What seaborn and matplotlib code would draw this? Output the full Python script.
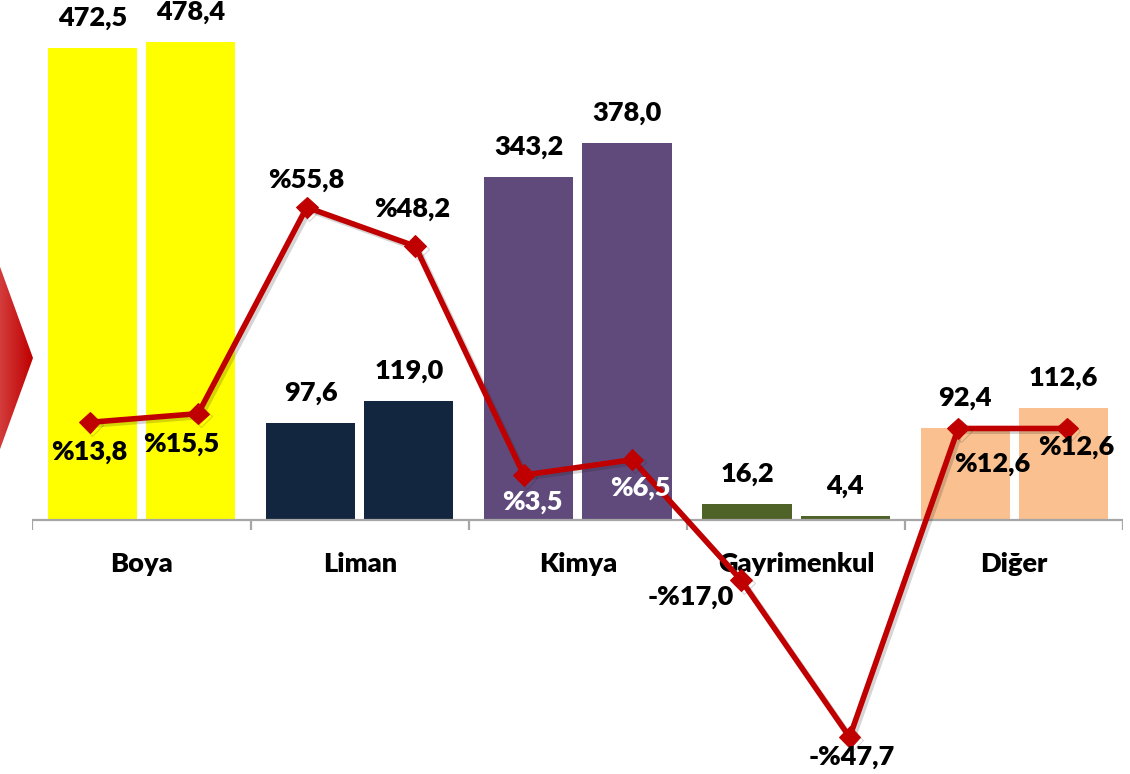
import numpy as np
import pandas as pd
import matplotlib
matplotlib.use('Agg')
import matplotlib.pyplot as plt
import matplotlib.patheffects as pe
from matplotlib.patches import Polygon
from matplotlib.colors import LinearSegmentedColormap
import seaborn as sns

# data
segments = ['Boya', 'Liman', 'Kimya', 'Gayrimenkul', 'Diğer']
periods = ['Önceki dönem', 'Son dönem']
values_prev = [472.5, 97.6, 343.2, 16.2, 92.4]
values_last = [478.4, 119.0, 378.0, 4.4, 112.6]
change_pct = [13.8, 15.5, 55.8, 48.2, 3.5, 6.5, -17.0, -47.7, 12.6, 12.6]

segment_colors = ['#FFFF00', '#13263F', '#604A7B', '#4F6228', '#FAC090']
line_red = '#C00000'
# where each % label sits relative to its point (pixels), like the original
pct_offsets = [(0, -30), (-17, -30), (0, 27), (-3, 37), (9, -27),
               (8, -28), (-50, -17), (2, -20), (34, -36), (9, -19)]
pct_colors = ['black'] * 4 + ['white'] * 2 + ['black'] * 4
FW = 'heavy'

df = pd.DataFrame({
    'segment': segments * 2,
    'period': [periods[0]] * 5 + [periods[1]] * 5,
    'value': values_prev + values_last,
})

def tr(v):
    return f'{abs(v):.1f}'.replace('.', ',')

sns.set_theme(style='white')
plt.rcParams['font.family'] = ['Lato', 'DejaVu Sans']
plt.rcParams['text.color'] = 'black'

fig = plt.figure(figsize=(11.3, 7.74), dpi=100)
ax = fig.add_axes([32.4 / 1130, 0, 1091 / 1130, 1])
ax.patch.set_visible(False)

sns.barplot(data=df, x='segment', y='value', hue='period', order=segments,
            width=0.9, gap=0.093, legend=False, ax=ax, saturation=1)
for cont in ax.containers:
    for bar, col in zip(cont, segment_colors):
        bar.set_facecolor(col)
        bar.set_edgecolor('none')
        ax.annotate(tr(bar.get_height()),
                    (bar.get_x() + bar.get_width() / 2, bar.get_height()),
                    xytext=(0, 30), textcoords='offset pixels', color='black',
                    ha='center', va='center', fontsize=19.5, fontweight=FW)

ax.set_xlim(-0.5, 4.5)
ax.set_ylim(-254.4, 520.8)
ax.axhline(0, color='#A6A6A6', lw=1.6, zorder=1)
ax.vlines(np.arange(len(segments) + 1) - 0.5, -10, 0, color='#A6A6A6', lw=1.6)
for i, name in enumerate(segments):
    ax.text(i, -52, name, ha='center', va='baseline', fontsize=19.5,
            fontweight=FW, color='black')
ax.set_axis_off()

# growth line on a second axis
ax2 = ax.twinx()
ax2.set_ylim(-54.9, 96.3)
xs = np.arange(len(change_pct)) * 0.4976 - 0.238
ldf = pd.DataFrame({'x': xs, 'pct': change_pct})
sns.lineplot(data=ldf, x='x', y='pct', ax=ax2, color=line_red, lw=4,
             marker='D', markersize=11, markeredgecolor=line_red, sort=False,
             path_effects=[pe.SimpleLineShadow(offset=(2, -2), alpha=0.18), pe.Normal()])
for x, v, off, c in zip(xs, change_pct, pct_offsets, pct_colors):
    lab = ('-%' if v < 0 else '%') + tr(v)
    ax2.annotate(lab, (x, v), xytext=off, textcoords='offset pixels',
                 ha='center', va='center', fontsize=19.5, fontweight=FW, color=c)
ax2.set_xlim(-0.5, 4.5)
ax2.set_axis_off()

# red arrow shape cut off at the left edge
ov = fig.add_axes([0, 0, 1, 1])
ov.set_axis_off()
ov.patch.set_visible(False)
arrow = Polygon([(-5, 253), (33, 358), (-5, 463)], closed=True, fc='none', ec='none')
ov.add_patch(arrow)
cmap = LinearSegmentedColormap.from_list('arr', ['#D64545', '#C00000'])
img = ov.imshow(np.linspace(0, 1, 50)[None, :], cmap=cmap, extent=(-5, 33, 463, 253),
                aspect='auto')
img.set_clip_path(arrow)
ov.set_xlim(0, 1130)
ov.set_ylim(774, 0)

fig.savefig('out.png', dpi=100)
